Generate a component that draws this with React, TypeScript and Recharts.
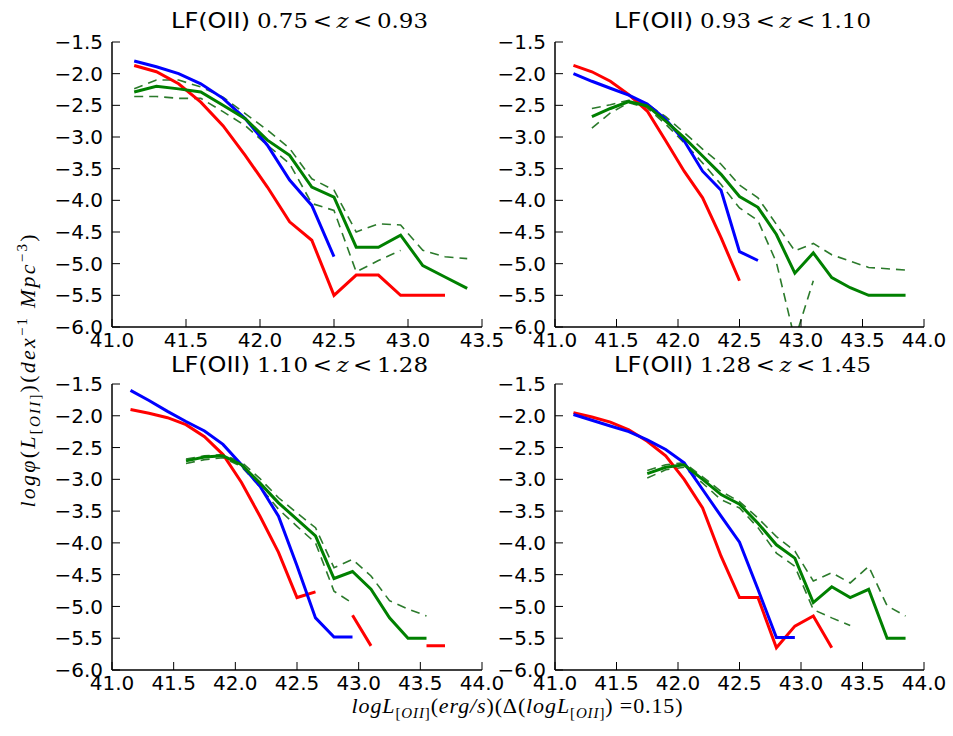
import React from 'react';
import { LineChart, Line, XAxis, YAxis } from 'recharts';

// luminosity bins (log L[OII])
const bins = [41.15, 41.3, 41.45, 41.6, 41.75, 41.9, 42.05, 42.2, 42.35, 42.5, 42.65, 42.8, 42.95, 43.1, 43.25, 43.4, 43.55, 43.7, 43.85];

const yTicks = [-6, -5.5, -5, -4.5, -4, -3.5, -3, -2.5, -2, -1.5];
const xTicksA = [41, 41.5, 42, 42.5, 43, 43.5];
const xTicksB = [41, 41.5, 42, 42.5, 43, 43.5, 44];

// Panel 1: 0.75 < z < 0.93
const p1Red = [-1.87, -1.97, -2.16, -2.45, -2.82, -3.29, -3.79, -4.34, -4.63, -5.5, -5.18, -5.18, -5.5, -5.5, -5.5];
const p1Blue = [-1.8, -1.89, -2.0, -2.16, -2.39, -2.71, -3.13, -3.68, -4.08, -4.89];
const p1Green = [-2.29, -2.2, -2.24, -2.29, -2.5, -2.71, -3.05, -3.29, -3.79, -3.95, -4.74, -4.74, -4.55, -5.03, -5.21, -5.39];
const p1GreenHi = [-2.24, -2.1, -2.1, -2.21, -2.37, -2.63, -2.89, -3.18, -3.66, -3.84, -4.5, -4.37, -4.39, -4.79, -4.89, -4.92];
const p1GreenLo = [-2.36, -2.36, -2.39, -2.39, -2.6, -2.82, -3.13, -3.42, -4.05, -4.16, -5.13, -4.95, -4.79];

// Panel 2: 0.93 < z < 1.10
const p2Red = [-1.87, -1.97, -2.12, -2.33, -2.59, -3.06, -3.54, -3.96, -4.59, -5.27];
const p2Blue = [-2.0, -2.12, -2.23, -2.34, -2.48, -2.72, -3.06, -3.54, -3.84, -4.81, -4.95];
const p2Green = [null, -2.68, -2.55, -2.44, -2.51, -2.75, -3.01, -3.3, -3.59, -3.94, -4.11, -4.54, -5.15, -4.83, -5.22, -5.38, -5.5, -5.5, -5.5];
const p2GreenHi = [null, -2.55, -2.49, -2.42, -2.48, -2.68, -2.93, -3.19, -3.43, -3.76, -3.96, -4.38, -4.8, -4.68, -4.86, -4.96, -5.06, -5.08, -5.1];
const p2GreenLo = [null, -2.86, -2.62, -2.46, -2.54, -2.8, -3.09, -3.41, -3.75, -4.12, -4.32, -4.98, -6.2, -5.27];

// Panel 3: 1.10 < z < 1.28
const p3Red = [-1.9, -1.96, -2.03, -2.14, -2.33, -2.61, -3.05, -3.58, -4.15, -4.86, -4.77, null, -5.14, -5.62, null, null, -5.62, -5.62];
const p3Blue = [-1.6, -1.76, -1.93, -2.09, -2.24, -2.45, -2.77, -3.11, -3.58, -4.36, -5.18, -5.48, -5.48];
const p3Green = [null, null, null, -2.71, -2.65, -2.63, -2.77, -3.06, -3.37, -3.63, -3.89, -4.56, -4.45, -4.73, -5.18, -5.5, -5.5];
const p3GreenHi = [null, null, null, -2.68, -2.63, -2.61, -2.73, -2.99, -3.29, -3.53, -3.76, -4.39, -4.26, -4.52, -4.91, -5.04, -5.15];
const p3GreenLo = [null, null, null, -2.75, -2.69, -2.66, -2.8, -3.12, -3.47, -3.74, -4.0, -4.76, -4.95];

// Panel 4: 1.28 < z < 1.45
const p4Red = [-1.95, -2.02, -2.1, -2.22, -2.4, -2.63, -3.0, -3.45, -4.21, -4.86, -4.86, -5.65, -5.31, -5.15, -5.65];
const p4Blue = [-1.98, -2.07, -2.16, -2.25, -2.38, -2.53, -2.74, -3.16, -3.58, -3.99, -4.73, -5.49, -5.49];
const p4Green = [null, null, null, null, -2.91, -2.81, -2.77, -3.0, -3.24, -3.39, -3.69, -4.03, -4.24, -4.94, -4.69, -4.86, -4.73, -5.5, -5.5];
const p4GreenHi = [null, null, null, null, -2.86, -2.77, -2.74, -2.96, -3.19, -3.35, -3.61, -3.9, -4.13, -4.6, -4.47, -4.63, -4.37, -4.99, -5.15];
const p4GreenLo = [null, null, null, null, -2.98, -2.85, -2.81, -3.06, -3.32, -3.45, -3.76, -4.16, -4.37, -5.05, -5.18, -5.3];

const titleRanges = ['0.75', '0.93', '0.93', '1.10', '1.10', '1.28', '1.28', '1.45'];

const toSeries = (arr: (number | null)[]) => arr.map((y, i) => ({ x: bins[i], y }));
const fmt = (v: number) => v.toFixed(1).replace('-', '\u2212');

const RED = '#ff0000';
const BLUE = '#0000ff';
const GREEN = '#008000';
const DGREEN = '#2b7a2b';

const tickStyle = { fill: '#000', fontSize: 20, fontFamily: 'DejaVu Sans' };
const axisStyle = { stroke: '#000', strokeWidth: 1.5 };
const tickLineStyle = { stroke: '#000', strokeWidth: 1 };

type PanelProps = {
  left: number;
  top: number;
  w: number;
  h: number;
  xMax: number;
  xTicks: number[];
  red: (number | null)[];
  blue: (number | null)[];
  green: (number | null)[];
  greenHi: (number | null)[];
  greenLo: (number | null)[];
};

function Panel({ left, top, w, h, xMax, xTicks, red, blue, green, greenHi, greenLo }: PanelProps) {
  const PL = 60;
  const PR = 28;
  const PT = 12;
  const XH = 32;
  return (
    <div style={{ position: 'absolute', left: left - PL, top: top - PT }}>
      <LineChart width={PL + w + PR} height={PT + h + XH} margin={{ top: PT, right: PR, bottom: 0, left: 0 }}>
        <XAxis
          type="number"
          dataKey="x"
          domain={[41, xMax]}
          ticks={xTicks}
          allowDataOverflow
          height={XH}
          tickSize={-8}
          tickMargin={14}
          tick={tickStyle}
          tickFormatter={fmt}
          axisLine={axisStyle}
          tickLine={tickLineStyle}
          interval={0}
        />
        <XAxis
          xAxisId="t"
          orientation="top"
          type="number"
          dataKey="x"
          domain={[41, xMax]}
          ticks={xTicks}
          allowDataOverflow
          height={0}
          tickSize={-8}
          tick={false}
          axisLine={axisStyle}
          tickLine={tickLineStyle}
          interval={0}
        />
        <YAxis
          type="number"
          domain={[-6, -1.5]}
          ticks={yTicks}
          allowDataOverflow
          width={PL}
          tickSize={-8}
          tickMargin={17}
          tick={tickStyle}
          tickFormatter={fmt}
          axisLine={axisStyle}
          tickLine={tickLineStyle}
          interval={0}
        />
        <YAxis
          yAxisId="r"
          orientation="right"
          type="number"
          domain={[-6, -1.5]}
          ticks={yTicks}
          allowDataOverflow
          width={0}
          tickSize={-8}
          tick={false}
          axisLine={axisStyle}
          tickLine={tickLineStyle}
          interval={0}
        />
        <Line data={toSeries(greenHi)} dataKey="y" stroke={DGREEN} strokeWidth={1.6} strokeDasharray="9 6" dot={false} isAnimationActive={false} type="linear" />
        <Line data={toSeries(greenLo)} dataKey="y" stroke={DGREEN} strokeWidth={1.6} strokeDasharray="9 6" dot={false} isAnimationActive={false} type="linear" />
        <Line data={toSeries(red)} dataKey="y" stroke={RED} strokeWidth={3} dot={false} isAnimationActive={false} type="linear" />
        <Line data={toSeries(blue)} dataKey="y" stroke={BLUE} strokeWidth={3} dot={false} isAnimationActive={false} type="linear" />
        <Line data={toSeries(green)} dataKey="y" stroke={GREEN} strokeWidth={3} dot={false} isAnimationActive={false} type="linear" />
      </LineChart>
    </div>
  );
}

function Title({ cx, y, lo, hi }: { cx: number; y: number; lo: string; hi: string }) {
  const start = cx - 128;
  return (
    <g>
      <text x={start} y={y} fontFamily="DejaVu Sans" fontSize={22} fill="#000" textLength={79} lengthAdjust="spacingAndGlyphs">LF(OII)</text>
      <text x={start + 86} y={y} fontFamily="DejaVu Serif" fontSize={21} fill="#000" textLength={171} lengthAdjust="spacingAndGlyphs">
        {lo}{'\u2009'}&lt;{'\u2009'}<tspan fontStyle="italic">z</tspan>{'\u2009'}&lt;{'\u2009'}{hi}
      </text>
    </g>
  );
}

export default function App() {
  const serif = 'Liberation Serif';
  return (
    <div style={{ position: 'absolute', left: 0, top: 0, width: 953, height: 736, background: '#fff', overflow: 'hidden' }}>
      <Panel left={112} top={42} w={370} h={285} xMax={43.5} xTicks={xTicksA} red={p1Red} blue={p1Blue} green={p1Green} greenHi={p1GreenHi} greenLo={p1GreenLo} />
      <Panel left={555} top={42} w={369} h={285} xMax={44} xTicks={xTicksB} red={p2Red} blue={p2Blue} green={p2Green} greenHi={p2GreenHi} greenLo={p2GreenLo} />
      <Panel left={112} top={384} w={370} h={286} xMax={44} xTicks={xTicksB} red={p3Red} blue={p3Blue} green={p3Green} greenHi={p3GreenHi} greenLo={p3GreenLo} />
      <Panel left={555} top={384} w={369} h={286} xMax={44} xTicks={xTicksB} red={p4Red} blue={p4Blue} green={p4Green} greenHi={p4GreenHi} greenLo={p4GreenLo} />
      <svg width={953} height={736} style={{ position: 'absolute', left: 0, top: 0, pointerEvents: 'none' }}>
        <Title cx={299} y={28} lo={titleRanges[0]} hi={titleRanges[1]} />
        <Title cx={742} y={28} lo={titleRanges[2]} hi={titleRanges[3]} />
        <Title cx={299} y={372} lo={titleRanges[4]} hi={titleRanges[5]} />
        <Title cx={742} y={372} lo={titleRanges[6]} hi={titleRanges[7]} />
        <text
          transform="translate(35,371) rotate(-90)"
          textAnchor="middle"
          fontFamily={serif}
          fontSize={22}
          fill="#000"
          textLength={273}
          lengthAdjust="spacing"
        >
          <tspan fontStyle="italic">log</tspan>
          <tspan fontStyle="italic">φ</tspan>
          <tspan>(</tspan>
          <tspan fontStyle="italic">L</tspan>
          <tspan fontSize={15} dy={5}>[</tspan>
          <tspan fontSize={15} fontStyle="italic">OII</tspan>
          <tspan fontSize={15}>]</tspan>
          <tspan dy={-5}>)(</tspan>
          <tspan fontStyle="italic">dex</tspan>
          <tspan fontSize={15} dy={-8}>−1</tspan>
          <tspan dy={8} fontStyle="italic"> Mpc</tspan>
          <tspan fontSize={15} dy={-8}>−3</tspan>
          <tspan dy={8}>)</tspan>
        </text>
        <text
          x={517}
          y={713}
          textAnchor="middle"
          fontFamily={serif}
          fontSize={22}
          fill="#000"
          textLength={331}
          lengthAdjust="spacing"
        >
          <tspan fontStyle="italic">logL</tspan>
          <tspan fontSize={15} dy={5}>[</tspan>
          <tspan fontSize={15} fontStyle="italic">OII</tspan>
          <tspan fontSize={15}>]</tspan>
          <tspan dy={-5}>(</tspan>
          <tspan fontStyle="italic">erg/s</tspan>
          <tspan>)(Δ(</tspan>
          <tspan fontStyle="italic">logL</tspan>
          <tspan fontSize={15} dy={5}>[</tspan>
          <tspan fontSize={15} fontStyle="italic">OII</tspan>
          <tspan fontSize={15}>]</tspan>
          <tspan dy={-5}>) =0.15)</tspan>
        </text>
      </svg>
    </div>
  );
}
